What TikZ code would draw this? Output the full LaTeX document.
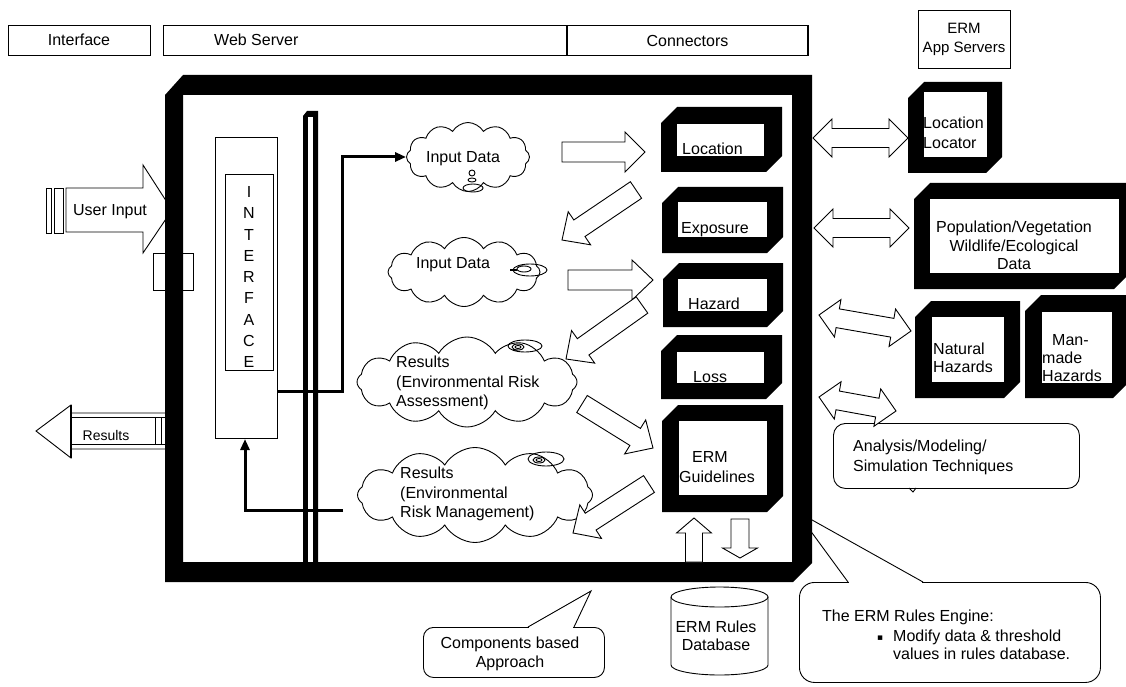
\documentclass[tikz,border=0pt]{standalone}
\usepackage{fontspec}
\setmainfont{Liberation Sans}
\newfontfamily\symbolfont{DejaVu Sans}
\usetikzlibrary{calc,fit,shapes.symbols,arrows.meta}

\tikzset{
  every node/.style={font=\fontsize{16pt}{19pt}\selectfont, inner sep=0pt},
  thinline/.style={draw=black, line width=0.9pt},
  panel/.style={draw=black, line width=0.9pt, fill=white},
  blockarrow/.style={draw=black, fill=white, line width=0.9pt, line join=miter},
  cloudy/.style={cloud, draw=black, fill=white, line width=0.9pt, cloud puffs=12,
                 cloud puff arc=120, cloud ignores aspect},
  feed/.style={line width=3pt, -{Triangle[length=11pt,width=9pt]}},
  lbl/.style={anchor=base west},
}

% hollow block arrow: tail, tip, body half width, head half width, head length
\newcommand\fatarrow[5]{%
  \coordinate (fa-h) at ($(#2)!#5pt!(#1)$);
  \draw[blockarrow] ($(#1)!#3pt!90:(#2)$) -- ($(fa-h)!#3pt!90:(#2)$)
    -- ($(fa-h)!#4pt!90:(#2)$) -- (#2) -- ($(fa-h)!#4pt!-90:(#2)$)
    -- ($(fa-h)!#3pt!-90:(#2)$) -- ($(#1)!#3pt!-90:(#2)$) -- cycle;}

% hollow double-headed block arrow: end A, end B, body half width, head half width, head length
\newcommand\fatdarrow[5]{%
  \coordinate (fd-a) at ($(#1)!#5pt!(#2)$);
  \coordinate (fd-b) at ($(#2)!#5pt!(#1)$);
  \draw[blockarrow] (#1) -- ($(fd-a)!#4pt!90:(#2)$) -- ($(fd-a)!#3pt!90:(#2)$)
    -- ($(fd-b)!#3pt!-90:(#1)$) -- ($(fd-b)!#4pt!-90:(#1)$) -- (#2)
    -- ($(fd-b)!#4pt!90:(#1)$) -- ($(fd-b)!#3pt!90:(#1)$)
    -- ($(fd-a)!#3pt!-90:(#2)$) -- ($(fd-a)!#4pt!-90:(#2)$) -- cycle;}

% heavy component block with chamfered corners and a white face
\newcommand\chambox[9]{%
  \fill (#2,#3+16) -- (#2+16,#3) -- (#4,#3) -- (#4,#5-16) -- (#4-16,#5) -- (#2,#5) -- cycle;
  \node[fill=white, fit={(#6,#7) (#8,#9)}] (#1) {};}

\begin{document}
\begin{tikzpicture}[x=1pt,y=-1pt]
\useasboundingbox (0,0) rectangle (1126,687);
\fill[white] (0,0) rectangle (1126,687);

% ---- header strip ----
\node[panel, minimum width=142, minimum height=30] (hdrIf) at (79,40) {Interface};
\node[panel, minimum width=404, minimum height=30] (hdrWeb) at (365,40) {};
\node[lbl] (hdrWebTxt) at (214,46) {Web Server};
\node[draw, line width=1.5pt, minimum width=241, minimum height=30] (hdrCon) at (687.5,40.5) {Connectors};
\node[panel, minimum width=92, minimum height=58, align=center,
      font=\fontsize{15pt}{19pt}\selectfont] (hdrApp) at (964,39) {ERM\\App Servers};

% ---- user input (striped arrow into the system) ----
\draw[thinline, fill=white] (46,188) rectangle (51,233);
\draw[thinline, fill=white] (54,188) rectangle (63,233);
\draw[thinline, fill=white] (66,188) -- (143,188) -- (143,165) -- (172,210) -- (143,253)
  -- (143,232) -- (66,232) -- cycle;
\node[anchor=base] (userin) at (110,215.5) {User Input};

% ---- results leaving the system ----
\draw[thinline, fill=white] (165,413) -- (71,413) -- (71,405) -- (36,431) -- (71,458)
  -- (71,449) -- (165,449);
\draw[thinline] (71,417) -- (165,417) (71,444) -- (165,444)
  (155,417) -- (155,444) (161,417) -- (161,444);
\draw[line width=2.4pt] (71,405) -- (71,458);
\node[anchor=base, font=\fontsize{14pt}{16pt}\selectfont] (resout) at (106,440) {Results};

% port on the system boundary
\draw[thinline, fill=white] (153,253) rectangle (193,290);

% ---- callouts ----
\node[draw, line width=0.9pt, fill=white, rounded corners=15, minimum width=301,
      minimum height=100, anchor=north west] (engine) at (799,582) {};
\fill[white] (849,580) rectangle (922,584);
\coordinate (engTip) at (796,511);
\draw[thinline] (848,582) -- (engTip) -- (923,582);
\node[lbl] (engT1) at (822,621.5) {The ERM Rules Engine:};
\node[lbl, font=\symbolfont\fontsize{9pt}{9pt}\selectfont] (engB) at (877,640) {▪};
\node[anchor=west, align=left, font=\fontsize{16pt}{18pt}\selectfont] (engT2) at (893,645)
  {Modify data \& threshold\\values in rules database.};

\node[draw, line width=0.9pt, fill=white, rounded corners=10, minimum width=181,
      minimum height=50, anchor=north west] (comp) at (423,627) {};
\fill[white] (529,625) rectangle (573,629);
\coordinate (compTip) at (591,591);
\draw[thinline] (528,627) -- (compTip) -- (574,627);
\node[align=center] (compT) at (510,654) {Components based\\Approach};

% ---- system frame ----
\fill[even odd rule] (165,95) -- (183,75) -- (812,75) -- (812,563) -- (793,582)
  -- (165,582) -- cycle (183,95) rectangle (792,562);

% ---- internal bus ----
\fill (303,116) -- (307,111) -- (318,111) -- (318,562) -- (303,562) -- cycle;
\fill[white] (308,117) rectangle (313,562);

% ---- interface column ----
\node[draw, line width=0.9pt, minimum width=62, minimum height=301, anchor=north west] (iface) at (215,137) {};
\node[draw, line width=0.9pt, minimum width=48, minimum height=196, anchor=north west] (ifaceIn) at (225,174) {};
\node[align=center, font=\fontsize{16pt}{21.25pt}\selectfont] (ifaceTxt) at (249,277)
  {I\\N\\T\\E\\R\\F\\A\\C\\E};

% ---- clouds ----
\node[cloudy, minimum width=123, minimum height=69] (in1) at (468,157) {};
\node[anchor=base] (in1T) at (463,163) {Input Data};
\node[cloudy, minimum width=152, minimum height=69] (in2) at (464,272) {};
\node[anchor=base] (in2T) at (453,268) {Input Data};
\node[cloudy, minimum width=220, minimum height=90] (res1) at (467,382) {};
\node[anchor=west, align=left, font=\fontsize{16pt}{19.5pt}\selectfont] (res1T) at (396,383)
  {Results\\(Environmental Risk\\Assessment)};
\node[cloudy, minimum width=235, minimum height=95] (res2) at (475,495) {};
\node[anchor=west, align=left, font=\fontsize{16pt}{19.5pt}\selectfont] (res2T) at (400,494)
  {Results\\(Environmental\\Risk Management)};

% small pictograms inside the clouds
\draw[thinline] (472,173) circle[radius=3pt] (472,180) ellipse[x radius=4pt, y radius=2pt]
  (473,188) ellipse[x radius=10pt, y radius=4pt];
\draw[thinline] (530,270) ellipse[x radius=17pt, y radius=6pt]
  (524,269) ellipse[x radius=7pt, y radius=3pt];
\draw[line width=2pt] (510,270) -- (517,270);
\draw[thinline] (525,346) ellipse[x radius=17pt, y radius=6pt]
  (518,347) ellipse[x radius=6pt, y radius=3pt] (518,347) ellipse[x radius=3pt, y radius=1.5pt];
\draw[thinline] (546,459) ellipse[x radius=18pt, y radius=7pt]
  (539,460) ellipse[x radius=6pt, y radius=3pt] (539,460) ellipse[x radius=3pt, y radius=1.5pt];

% ---- feed lines between interface and clouds ----
\coordinate (ifOut) at (277,391);
\coordinate (busUp) at (342,391);
\draw[feed] (ifOut) -- (busUp) |- (in1.west);
\coordinate (resIn) at (343,510);
\coordinate (ifIn) at (245,439);
\draw[feed] (resIn) -| (ifIn);

% ---- rule-engine components ----
\chambox{loc}{661}{107}{782}{172}{677}{124}{764}{156}
\chambox{expo}{662}{187}{783}{253}{678}{202}{767}{237}
\chambox{haz}{663}{263}{783}{327}{678}{279}{767}{311}
\chambox{loss}{661}{335}{782}{399}{677}{352}{764}{383}
\chambox{guide}{662}{405}{783}{512}{679}{421}{767}{495}
\node[lbl] (locT) at (682,155) {Location};
\node[lbl] (expoT) at (681,233) {Exposure};
\node[lbl] (hazT) at (688,309) {Hazard};
\node[lbl] (lossT) at (693,382) {Loss};
\node[lbl] (guideT1) at (692,462) {ERM};
\node[lbl] (guideT2) at (679,482) {Guidelines};

% ---- flow arrows inside the engine ----
\coordinate (a1t) at (562,152); \coordinate (a1h) at (645,152);
\coordinate (a2t) at (636,190); \coordinate (a2h) at (562,240);
\coordinate (a3t) at (568,280); \coordinate (a3h) at (653,280);
\coordinate (a4t) at (642,305); \coordinate (a4h) at (566,359);
\coordinate (a5t) at (582,404); \coordinate (a5h) at (653,448);
\coordinate (a6t) at (649,484); \coordinate (a6h) at (573,533);
\fatarrow{a1t}{a1h}{10}{20}{20}
\fatarrow{a2t}{a2h}{10}{20}{21}
\fatarrow{a3t}{a3h}{10}{20}{21}
\fatarrow{a4t}{a4h}{10}{20}{21}
\fatarrow{a5t}{a5h}{10}{20}{21}
\fatarrow{a6t}{a6h}{10}{20}{21}
\coordinate (u1t) at (694,562); \coordinate (u1h) at (694,518);
\coordinate (u2t) at (740,519); \coordinate (u2h) at (740,558);
\fatarrow{u1t}{u1h}{8.5}{17.5}{15}
\fatarrow{u2t}{u2h}{9}{17.5}{10}

% ---- rules database ----
\draw[thinline, fill=white] (671,597) -- (671,665)
  arc[start angle=180, end angle=360, x radius=48.5pt, y radius=10pt] -- (768,597);
\draw[thinline] (719.5,597) ellipse[x radius=48.5pt, y radius=10pt];
\node[align=center, font=\fontsize{16pt}{18pt}\selectfont] (db) at (716,636) {ERM Rules\\Database};

% ---- application servers ----
\chambox{locator}{908}{82}{1002}{173}{924}{92}{987}{157}
\chambox{popu}{914}{183}{1130}{289}{930}{199}{1119}{273}
\chambox{natural}{915}{301}{1020}{398}{932}{317}{1004}{382}
\chambox{manmade}{1025}{295}{1129}{398}{1042}{312}{1112}{383}
\node[anchor=west, align=left, font=\fontsize{16pt}{20pt}\selectfont] (locatorT) at (923,133) {Location\\Locator};
\node[align=center, font=\fontsize{16pt}{18.5pt}\selectfont] (popuT) at (1014,245.5)
  {Population/Vegetation\\Wildlife/Ecological\\Data};
\node[anchor=west, align=left, font=\fontsize{16pt}{18pt}\selectfont] (naturalT) at (933,358) {Natural\\Hazards};
\node[anchor=west, align=left, font=\fontsize{16pt}{18pt}\selectfont] (manmadeT) at (1042,358)
  {\hspace*{10pt}Man-\\made\\Hazards};

\node[draw, line width=0.9pt, fill=white, rounded corners=12, minimum width=246,
      minimum height=65, anchor=north west] (anal) at (833,423) {};
\draw[thinline] (909,488) -- (913,492) -- (916,488);
\node[anchor=west, align=left, font=\fontsize{16pt}{20pt}\selectfont] (analT) at (853,457.5)
  {Analysis/Modeling/\\Simulation Techniques};

\coordinate (d1a) at (813,138); \coordinate (d1b) at (908,138);
\coordinate (d2a) at (814,228); \coordinate (d2b) at (909,228);
\coordinate (d3a) at (819,315); \coordinate (d3b) at (911,331);
\coordinate (d4a) at (819,397); \coordinate (d4b) at (896,411);
\fatdarrow{d1a}{d1b}{9.5}{19}{19}
\fatdarrow{d2a}{d2b}{9.5}{19}{19}
\fatdarrow{d3a}{d3b}{9.5}{19}{19}
\fatdarrow{d4a}{d4b}{9.5}{19}{19}
\end{tikzpicture}
\end{document}
